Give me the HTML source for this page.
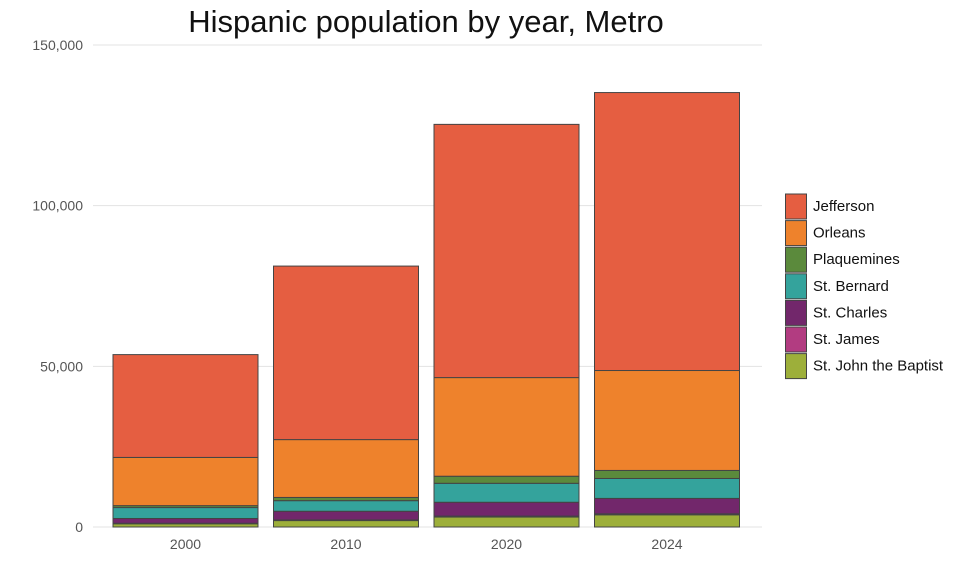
<!DOCTYPE html>
<html><head><meta charset="utf-8"><style>
body{margin:0;background:#fff;}
svg{display:block;font-family:"Liberation Sans",sans-serif;}
</style></head><body>
<svg id="chart" width="960" height="576">
<text x="426" y="32" text-anchor="middle" font-size="31" fill="#111">Hispanic population by year, Metro</text>
<g id="grid"></g>
<g id="bars"></g>
<g id="legend"></g>
</svg>
<script>
const years = ["2000","2010","2020","2024"];
const parishes = ["Jefferson","Orleans","Plaquemines","St. Bernard","St. Charles","St. James","St. John the Baptist"];
const colors = ["#E55E41","#EE822C","#5B8A3C","#34A39C","#72276B","#B23C81","#9DAF3A"];
const jefferson = [32000,54000,78800,86500];
const orleans = [15000,18000,30700,31100];
const plaquemines = [600,1000,2200,2500];
const stBernard = [3400,3300,5900,6200];
const stCharles = [1500,2700,4300,4800];
const stJames = [150,200,300,300];
const stJohn = [1000,2000,3100,3800];
const yTicks = [0,50000,100000,150000];
const yTickLabels = ["0","50,000","100,000","150,000"];

const series=[jefferson,orleans,plaquemines,stBernard,stCharles,stJames,stJohn];
const NS="http://www.w3.org/2000/svg";
const y0=527, yTop=45, yMax=150000;
const y=v=>y0-(v/yMax)*(y0-yTop);
const band=160.5, x0=105, bw=145;
const x=i=>x0+i*band;
function mk(tag,attrs,parent){const e=document.createElementNS(NS,tag);for(const k in attrs)e.setAttribute(k,attrs[k]);parent.appendChild(e);return e;}
const grid=document.getElementById('grid');
yTicks.forEach((t,i)=>{
  const l=mk('line',{x1:93,x2:762,y1:y(t),y2:y(t),stroke:"#e3e3e3","stroke-width":1},grid);
  
  
  const tx=mk('text',{x:83,y:y(t)+5,"text-anchor":"end","font-size":14,fill:"#555"},grid);
  tx.textContent=yTickLabels[i];
  
  
});
const bars=document.getElementById('bars');
years.forEach((yr,i)=>{
  let cum=0;
  for(let s=series.length-1;s>=0;s--){
    const v=series[s][i];
    const r=mk('rect',{x:x(i)+8,y:y(cum+v),width:bw,height:y(cum)-y(cum+v),fill:colors[s],stroke:"#444","stroke-width":1},bars);
    
    
    cum+=v;
  }
  const t=mk('text',{x:x(i)+8+bw/2,y:549,"text-anchor":"middle","font-size":14,fill:"#555"},bars);
  t.textContent=yr;
  
  
});
const lg=document.getElementById('legend');
parishes.forEach((p,i)=>{
  const yy=194+i*26.6;
  const r=mk('rect',{x:785.5,y:yy,width:21,height:25,fill:colors[i],stroke:"#444","stroke-width":1},lg);
  
  
  const t=mk('text',{x:813,y:yy+17,"font-size":15,fill:"#111"},lg);
  t.textContent=p;
  
  
});
</script>
</body></html>
